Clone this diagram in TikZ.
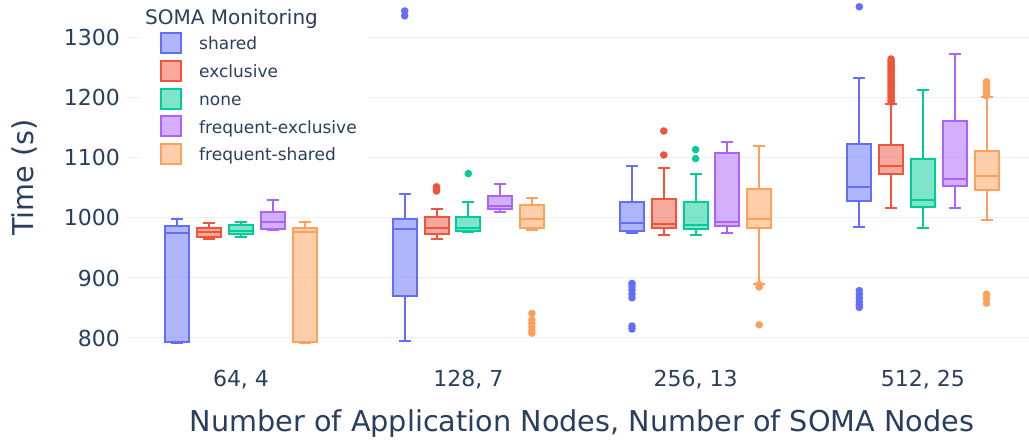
\documentclass[tikz,border=0pt]{standalone}
\usepackage{fontspec}
\setmainfont{DejaVu Sans}

\definecolor{cshared}{HTML}{636EFA}
\definecolor{cexcl}{HTML}{EF553B}
\definecolor{cnone}{HTML}{00CC96}
\definecolor{cfexcl}{HTML}{AB63FA}
\definecolor{cfshared}{HTML}{FFA15A}
\definecolor{axistext}{HTML}{2A3F5F}
\definecolor{gridc}{HTML}{EBF0F8}

\tikzset{
  boxline/.style={draw=#1, line width=2pt},
  gridline/.style={draw=gridc, line width=1pt},
  ticklabel/.style={inner sep=0pt, text=axistext, font=\fontsize{22}{26}\selectfont},
  catlabel/.style={inner sep=0pt, text=axistext, font=\fontsize{22}{26}\selectfont},
  axistitle/.style={inner sep=0pt, text=axistext, font=\fontsize{28.7}{34}\selectfont},
  legtitle/.style={inner sep=0pt, text=axistext, font=\fontsize{20}{24}\selectfont},
  legitem/.style={inner sep=0pt, text=axistext, font=\fontsize{17}{20}\selectfont},
  legicon/.style={draw=#1, line width=2pt, fill=#1, fill opacity=0.5},
}

% x centre, lower whisker, q1, median, q3, upper whisker, colour
\newcommand{\drawbox}[7]{%
  \draw[boxline=#7] (#1,#2) -- (#1,#3) (#1,#5) -- (#1,#6)
    (#1-6,#2) -- (#1+6,#2) (#1-6,#6) -- (#1+6,#6);
  \filldraw[boxline=#7, fill=#7, fill opacity=0.5] (#1-12,#3) rectangle (#1+12,#5);
  \draw[boxline=#7] (#1-12,#4) -- (#1+12,#4);
}
% x centre, colour, list of outlier values
\newcommand{\outliers}[3]{%
  \foreach \v in {#3} \fill[#2] (#1,\v) circle[radius=3.8pt];
}

\begin{document}
\begin{tikzpicture}[x=1pt, y=1pt]
\useasboundingbox (0,0) rectangle (1029,442);
\fill[white] (0,0) rectangle (1029,442);

\begin{scope}[y=0.6pt, yshift=-376pt]
  % grid and tick labels
  \foreach \g in {800,900,...,1300} {
    \draw[gridline] (126,\g) -- (1029,\g);
    \node[ticklabel, anchor=east] (tick\g) at (120,\g) {\g};
  }

  % 64, 4
  \drawbox{177.4}{791}{793}{975}{987}{998}{cshared}
  \drawbox{209.2}{965}{969}{977}{983}{991}{cexcl}
  \drawbox{241.0}{969}{973}{979}{989}{993}{cnone}
  \drawbox{272.8}{980}{982}{994}{1010}{1030}{cfexcl}
  \drawbox{304.6}{791}{793}{977}{984}{994}{cfshared}

  % 128, 7
  \drawbox{404.7}{795}{870}{981}{998}{1040}{cshared}
  \outliers{404.7}{cshared}{1345,1337}
  \drawbox{436.5}{965}{973}{983}{1001}{1015}{cexcl}
  \outliers{436.5}{cexcl}{1052,1048,1045}
  \drawbox{468.3}{976}{978}{984}{1002}{1027}{cnone}
  \outliers{468.3}{cnone}{1074}
  \drawbox{500.1}{1010}{1015}{1020}{1037}{1057}{cfexcl}
  \drawbox{531.9}{980}{983}{998}{1021}{1033}{cfshared}
  \outliers{531.9}{cfshared}{841,830,824,818,812,808}

  % 256, 13
  \drawbox{632.0}{975}{978}{991}{1027}{1087}{cshared}
  \outliers{632.0}{cshared}{891,886,880,873,867,820,815}
  \drawbox{663.8}{972}{984}{990}{1032}{1084}{cexcl}
  \outliers{663.8}{cexcl}{1145,1105}
  \drawbox{695.6}{972}{982}{988}{1026}{1073}{cnone}
  \outliers{695.6}{cnone}{1114,1099}
  \drawbox{727.4}{975}{987}{994}{1108}{1126}{cfexcl}
  \drawbox{759.2}{890}{984}{998}{1048}{1120}{cfshared}
  \outliers{759.2}{cfshared}{889,885,822}

  % 512, 25
  \drawbox{859.3}{985}{1028}{1052}{1124}{1234}{cshared}
  \outliers{859.3}{cshared}{1352,879,873,867,861,855,851}
  \drawbox{891.1}{1016}{1074}{1087}{1122}{1190}{cexcl}
  \outliers{891.1}{cexcl}{1193,1196,...,1265}
  \drawbox{922.9}{983}{1018}{1030}{1098}{1214}{cnone}
  \drawbox{954.7}{1016}{1053}{1065}{1161}{1274}{cfexcl}
  \drawbox{986.5}{996}{1047}{1070}{1112}{1202}{cfshared}
  \outliers{986.5}{cfshared}{1204,1208,1212,1216,1220,1224,1227,873,866,858}
\end{scope}

% category labels
\node[catlabel, anchor=base] (cat1) at (241.0,55) {64, 4};
\node[catlabel, anchor=base] (cat2) at (468.3,55) {128, 7};
\node[catlabel, anchor=base] (cat3) at (695.6,55) {256, 13};
\node[catlabel, anchor=base] (cat4) at (922.9,55) {512, 25};

% axis titles
\node[axistitle, anchor=base] (xtitle) at (582,10.3) {Number of Application Nodes, Number of SOMA Nodes};
\node[axistitle, anchor=base, rotate=90] (ytitle) at (33.3,264.5) {Time (s)};

% legend
\fill[white] (140,272) rectangle (368,442);
\node[legtitle, anchor=base west] (legtitle) at (145,417) {SOMA Monitoring};
\foreach \c/\lab [count=\i from 0] in {cshared/shared, cexcl/exclusive, cnone/none, cfexcl/frequent-exclusive, cfshared/frequent-shared} {
  \pgfmathsetmacro{\yc}{398.7-27.7*\i}
  \filldraw[legicon=\c] (161,\yc-10) rectangle (181,\yc+10);
  \node[legitem, anchor=base west] (leg\i) at (199,\yc-6.7) {\lab};
}
\end{tikzpicture}
\end{document}
